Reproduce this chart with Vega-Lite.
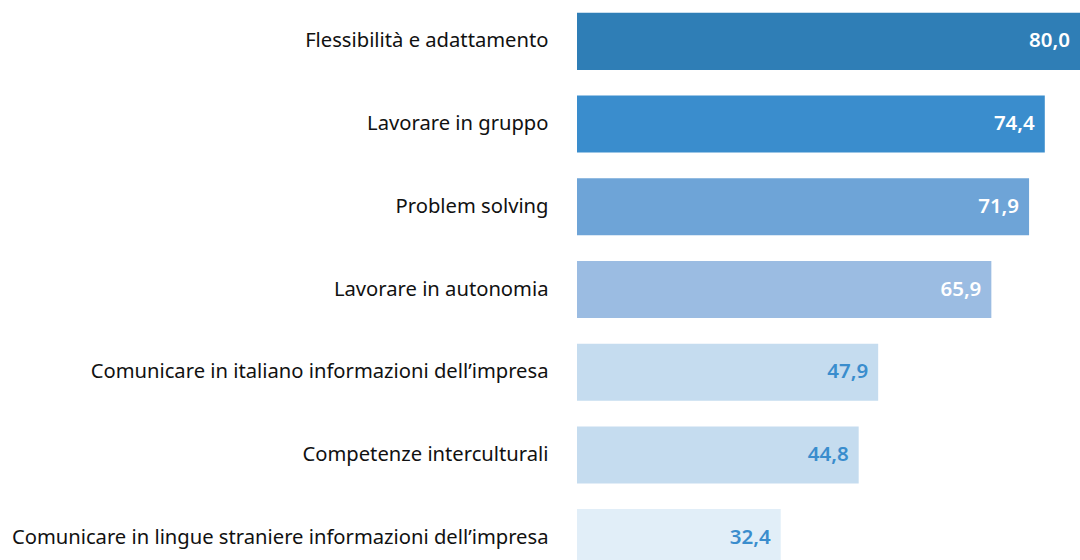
{
  "$schema": "https://vega.github.io/schema/vega-lite/v6.json",
  "autosize": "none",
  "width": 503,
  "height": 579,
  "padding": {"left": 577, "top": 0, "right": 0, "bottom": 0},
  "background": "white",
  "config": {"view": {"stroke": null}, "font": "Noto Sans"},
  "data": {"values": [
    {"skill": "Flessibilità e adattamento", "value": 80.0},
    {"skill": "Lavorare in gruppo", "value": 74.4},
    {"skill": "Problem solving", "value": 71.9},
    {"skill": "Lavorare in autonomia", "value": 65.9},
    {"skill": "Comunicare in italiano informazioni dell’impresa", "value": 47.9},
    {"skill": "Competenze interculturali", "value": 44.8},
    {"skill": "Comunicare in lingue straniere informazioni dell’impresa", "value": 32.4}
  ]},
  "encoding": {
    "y": {"field": "skill", "type": "nominal", "sort": null,
      "scale": {"paddingInner": 0.31, "paddingOuter": 0.155},
      "axis": {"title": null, "domain": false, "ticks": false, "labelPadding": 29,
        "labelFontSize": 20.2, "labelColor": "#111111", "labelFont": "Noto Sans", "labelLimit": 700}},
    "x": {"field": "value", "type": "quantitative", "scale": {"domain": [0, 80]}, "axis": null}
  },
  "layer": [
    {"mark": {"type": "bar", "clip": true},
     "encoding": {"color": {"field": "skill", "type": "nominal", "legend": null, "sort": null,
       "scale": {"domain": ["Flessibilità e adattamento", "Lavorare in gruppo", "Problem solving", "Lavorare in autonomia", "Comunicare in italiano informazioni dell’impresa", "Competenze interculturali", "Comunicare in lingue straniere informazioni dell’impresa"],
         "range": ["#2F7EB6", "#3A8DCD", "#6EA4D7", "#9BBCE2", "#C5DCEF", "#C5DCEF", "#E1EEF8"]}}}},
    {"mark": {"type": "text", "align": "right", "baseline": "middle", "dx": -10, "fontSize": 20.5, "fontWeight": 600, "font": "Noto Sans"},
     "encoding": {"text": {"field": "value", "type": "quantitative", "format": ".1f"},
       "color": {"condition": {"test": "datum.value > 60", "value": "white"}, "value": "#3A8DCD"}}}
  ],
  "resolve": {"scale": {"color": "independent"}},
  "usermeta": {"embedOptions": {"formatLocale": {"decimal": ",", "thousands": ".", "grouping": [3], "currency": ["€", ""]}}}
}
